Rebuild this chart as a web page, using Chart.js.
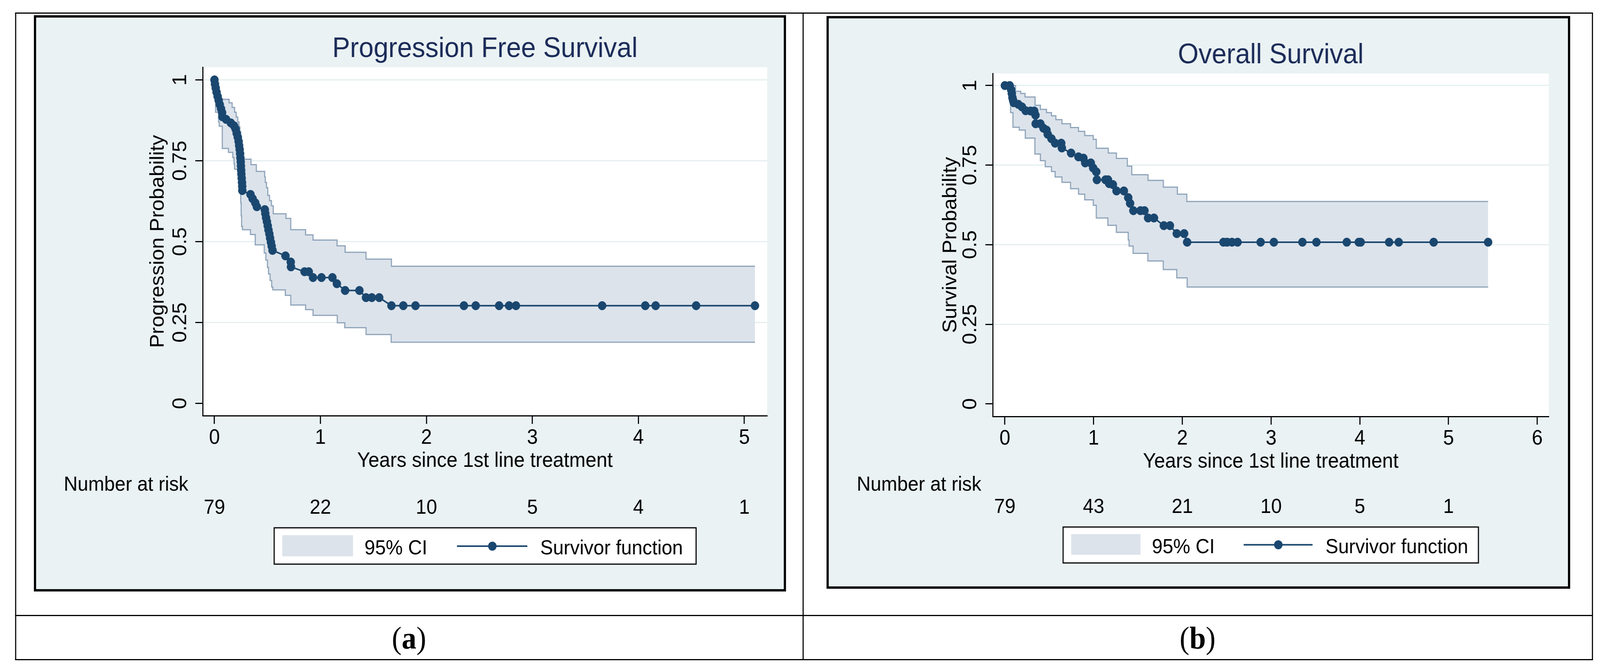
<!DOCTYPE html>
<html>
<head>
<meta charset="utf-8">
<script src="https://cdn.jsdelivr.net/npm/chart.js@4.4.1/dist/chart.umd.min.js"></script>
<style>
  html, body { margin: 0; padding: 0; background: #fff; overflow: hidden; }
  #page { position: absolute; left: 0; top: 0; width: 4342px; height: 1715px; transform-origin: 0 0; background: #fff; }
  .rule { position: absolute; background: #000; }
  .frame { position: absolute; box-sizing: border-box; border: 6px solid #000; background: #eaf2f3; }
  canvas { position: absolute; }
  .cap { position: absolute; font-family: 'Liberation Serif', 'DejaVu Serif', serif; font-size: 80px;
         line-height: 1; transform: translate(-50%, -50%); white-space: nowrap; color: #000; }
</style>
</head>
<body>
<div id="page">
  <div class="rule" style="left:41px;top:32px;width:4282px;height:3px"></div>
  <div class="rule" style="left:41px;top:1687px;width:4282px;height:3px"></div>
  <div class="rule" style="left:41px;top:1574px;width:4282px;height:3px"></div>
  <div class="rule" style="left:41px;top:32px;width:3px;height:1658px"></div>
  <div class="rule" style="left:2178px;top:32px;width:3px;height:1658px"></div>
  <div class="rule" style="left:4320px;top:32px;width:3px;height:1658px"></div>

  <div class="frame" style="left:92px;top:39px;width:2041px;height:1475px"></div>
  <div class="frame" style="left:2243px;top:41px;width:2018px;height:1466px"></div>
  <canvas id="pfs" width="2035" height="1469" style="left:95px;top:42px;width:2035px;height:1469px"></canvas>
  <canvas id="os" width="2012" height="1460" style="left:2246px;top:44px;width:2012px;height:1460px"></canvas>

  <div class="cap" style="left:1110px;top:1633px">(<b>a</b>)</div>
  <div class="cap" style="left:3250px;top:1633px">(<b>b</b>)</div>
</div>

<script>
// Progression free survival (years, probability)
const pfsTime = [0, 0.005, 0.012, 0.02, 0.03, 0.04, 0.05, 0.062, 0.072, 0.075, 0.11, 0.155, 0.185, 0.2, 0.21,
  0.22, 0.228, 0.233, 0.238, 0.242, 0.245, 0.248, 0.25, 0.252, 0.254, 0.257, 0.26, 0.262, 0.263, 0.34, 0.36,
  0.385, 0.4, 0.475, 0.48, 0.487, 0.495, 0.503, 0.51, 0.518, 0.525, 0.533, 0.54, 0.548, 0.67, 0.72, 0.722,
  0.85, 0.89, 0.93, 1.01, 1.113, 1.155, 1.233, 1.368, 1.43, 1.485, 1.555, 1.67, 1.782, 1.897, 2.354, 2.465,
  2.686, 2.78, 2.845, 3.658, 4.065, 4.163, 4.545, 5.1];
const pfsSurv = [1, 0.987, 0.975, 0.962, 0.949, 0.937, 0.924, 0.911, 0.899, 0.886, 0.878, 0.867, 0.858, 0.848,
  0.835, 0.823, 0.81, 0.797, 0.785, 0.772, 0.759, 0.747, 0.734, 0.721, 0.709, 0.696, 0.683, 0.671, 0.658, 0.646,
  0.633, 0.62, 0.608, 0.599, 0.587, 0.574, 0.562, 0.549, 0.536, 0.524, 0.511, 0.498, 0.486, 0.473, 0.456, 0.437,
  0.422, 0.407, 0.407, 0.389, 0.389, 0.389, 0.37, 0.349, 0.349, 0.327, 0.327, 0.327, 0.302, 0.302, 0.302, 0.302,
  0.302, 0.302, 0.302, 0.302, 0.302, 0.302, 0.302, 0.302, 0.302];
const pfsUpperTime = [0, 0.02, 0.138, 0.167, 0.19, 0.205, 0.22, 0.232, 0.24, 0.248, 0.255, 0.26, 0.265, 0.27,
  0.345, 0.395, 0.474, 0.48, 0.491, 0.503, 0.52, 0.538, 0.555, 0.675, 0.72, 0.86, 0.93, 1.157, 1.233, 1.43, 1.67, 5.1];
const pfsUpper = [1, 0.94, 0.929, 0.915, 0.9, 0.885, 0.87, 0.855, 0.84, 0.824, 0.808, 0.792, 0.774, 0.755,
  0.738, 0.717, 0.7, 0.683, 0.667, 0.643, 0.627, 0.611, 0.586, 0.572, 0.537, 0.521, 0.505, 0.487, 0.467, 0.446, 0.424, 0.424];
const pfsLowerTime = [0, 0.0104, 0.039, 0.045, 0.074, 0.132, 0.173, 0.185, 0.19, 0.242, 0.245, 0.248, 0.252,
  0.256, 0.264, 0.34, 0.385, 0.47, 0.485, 0.5, 0.51, 0.525, 0.54, 0.551, 0.669, 0.72, 0.86, 0.93, 1.159, 1.23, 1.43, 1.667, 5.1];
const pfsLower = [1, 0.9, 0.87, 0.857, 0.788, 0.776, 0.76, 0.74, 0.724, 0.7, 0.66, 0.62, 0.58,
  0.547, 0.537, 0.522, 0.49, 0.465, 0.443, 0.42, 0.4, 0.38, 0.36, 0.351, 0.334, 0.304, 0.29, 0.272, 0.249, 0.234, 0.213, 0.189, 0.189];
const pfsRiskTime = [0, 1, 2, 3, 4, 5];
const pfsRisk = [79, 22, 10, 5, 4, 1];
const pfsXTicks = [0, 1, 2, 3, 4, 5];

// Overall survival
const osTime = [0, 0.054, 0.07, 0.078, 0.085, 0.092, 0.1, 0.151, 0.192, 0.234, 0.289, 0.331, 0.345, 0.347, 0.4,
  0.435, 0.469, 0.483, 0.525, 0.566, 0.635, 0.642, 0.746, 0.829, 0.885, 0.905, 0.968, 0.995, 1.03, 1.037, 1.134,
  1.162, 1.175, 1.217, 1.258, 1.341, 1.39, 1.411, 1.448, 1.528, 1.573, 1.614, 1.68, 1.791, 1.86, 1.937, 2.02,
  2.054, 2.463, 2.504, 2.559, 2.622, 2.882, 3.031, 3.353, 3.511, 3.853, 3.988, 4.01, 4.33, 4.438, 4.832, 5.446];
const osSurv = [1, 1, 0.987, 0.975, 0.962, 0.954, 0.946, 0.941, 0.933, 0.921, 0.92, 0.92, 0.907, 0.88, 0.88,
  0.866, 0.86, 0.847, 0.833, 0.819, 0.819, 0.804, 0.788, 0.776, 0.772, 0.757, 0.757, 0.741, 0.729, 0.704, 0.704,
  0.704, 0.692, 0.689, 0.669, 0.669, 0.648, 0.63, 0.607, 0.607, 0.607, 0.584, 0.584, 0.56, 0.56, 0.535, 0.535,
  0.508, 0.508, 0.508, 0.508, 0.508, 0.508, 0.508, 0.508, 0.508, 0.508, 0.508, 0.508, 0.508, 0.508, 0.508, 0.508];
const osUpperTime = [0, 0.12, 0.179, 0.227, 0.34, 0.4, 0.469, 0.525, 0.574, 0.643, 0.74, 0.83, 0.9, 0.996,
  1.03, 1.165, 1.257, 1.38, 1.43, 1.613, 1.786, 1.944, 2.05, 5.446];
const osUpper = [1, 0.982, 0.975, 0.964, 0.938, 0.925, 0.915, 0.905, 0.893, 0.88, 0.868, 0.856, 0.843, 0.831,
  0.803, 0.788, 0.771, 0.747, 0.72, 0.702, 0.681, 0.659, 0.636, 0.636];
const osLowerTime = [0, 0.055, 0.064, 0.091, 0.162, 0.23, 0.338, 0.4, 0.455, 0.525, 0.566, 0.643, 0.74, 0.83,
  0.9, 0.996, 1.03, 1.16, 1.256, 1.39, 1.4, 1.445, 1.611, 1.785, 1.937, 2.054, 5.446];
const osLower = [1, 0.96, 0.915, 0.869, 0.86, 0.835, 0.785, 0.764, 0.745, 0.73, 0.713, 0.696, 0.676, 0.659,
  0.641, 0.624, 0.584, 0.561, 0.539, 0.515, 0.496, 0.473, 0.449, 0.422, 0.396, 0.367, 0.367];
const osRiskTime = [0, 1, 2, 3, 4, 5];
const osRisk = [79, 43, 21, 10, 5, 1];
const osXTicks = [0, 1, 2, 3, 4, 5, 6];

const yTicks = [0, 0.25, 0.5, 0.75, 1];

const NAVY = '#1a476f';
const TITLE = '#1b2b58';
const CI_FILL = '#dce3eb';
const CI_LINE = '#8ea3b9';
const GRID = '#e5eef0';
const FONT = "'Liberation Sans', Arial, sans-serif";

Chart.defaults.font.family = FONT;

// the figure is laid out at 4342x1715; fit it to whatever window we get
const page = document.getElementById('page');
page.style.transform = 'scale(' + (window.innerWidth / 4342) + ',' + (window.innerHeight / 1715) + ')';

function toPoints(xs, ys) {
    return xs.map((x, i) => ({ x: x, y: ys[i] }));
}

const plotBackground = {
    id: 'plotBackground',
    beforeDraw(chart) {
        const a = chart.chartArea;
        chart.ctx.save();
        chart.ctx.fillStyle = '#fff';
        chart.ctx.fillRect(a.left, a.top, a.right - a.left, a.bottom - a.top);
        chart.ctx.restore();
    }
};

// number-at-risk row and the boxed legend underneath
function riskAndLegend(opt) {
    return {
        id: 'riskAndLegend',
        afterDraw(chart) {
            const ctx = chart.ctx;
            const xScale = chart.scales.x;
            const L = opt.legend;
            ctx.save();
            ctx.fillStyle = '#000';
            ctx.font = '52px ' + FONT;
            ctx.textBaseline = 'alphabetic';
            ctx.textAlign = 'left';
            ctx.fillText('Number at risk', opt.riskLabelX, opt.riskLabelY);
            ctx.textAlign = 'center';
            opt.riskTime.forEach((t, i) => {
                ctx.fillText(String(opt.risk[i]), xScale.getPixelForValue(t), opt.riskY);
            });

            ctx.fillStyle = '#fff';
            ctx.fillRect(L.x, L.y, L.w, L.h);
            ctx.lineWidth = 3;
            ctx.strokeStyle = '#000';
            ctx.strokeRect(L.x, L.y, L.w, L.h);
            ctx.fillStyle = CI_FILL;
            ctx.fillRect(L.x + L.swX, L.y + L.swY, L.swW, L.swH);
            ctx.fillStyle = '#000';
            ctx.textAlign = 'left';
            ctx.fillText(chart.data.datasets[2].label, L.x + L.ciTextX, L.y + L.textY);
            ctx.strokeStyle = NAVY;
            ctx.lineWidth = 4;
            ctx.beginPath();
            ctx.moveTo(L.x + L.lineX1, L.y + L.lineY);
            ctx.lineTo(L.x + L.lineX2, L.y + L.lineY);
            ctx.stroke();
            ctx.fillStyle = NAVY;
            ctx.beginPath();
            ctx.arc(L.x + L.markX, L.y + L.lineY, 11.5, 0, Math.PI * 2);
            ctx.fill();
            ctx.fillStyle = '#000';
            ctx.fillText(chart.data.datasets[0].label, L.x + L.survTextX, L.y + L.textY);
            ctx.restore();
        }
    };
}

function generateChart(canvasId, opt) {
    const data = {
        datasets: [{
            label: 'Survivor function',
            data: toPoints(opt.time, opt.surv),
            borderColor: NAVY,
            backgroundColor: NAVY,
            borderWidth: 4,
            pointRadius: 11,
            pointBorderWidth: 1,
            pointBackgroundColor: NAVY,
            pointBorderColor: NAVY,
            tension: 0,
            fill: false
        }, {
            label: 'upper',
            data: toPoints(opt.upperTime, opt.upper),
            stepped: true,
            borderColor: CI_LINE,
            borderWidth: 3,
            pointRadius: 0,
            fill: false
        }, {
            label: '95% CI',
            data: toPoints(opt.lowerTime, opt.lower),
            stepped: true,
            borderColor: CI_LINE,
            borderWidth: 3,
            pointRadius: 0,
            backgroundColor: CI_FILL,
            fill: '-1'
        }]
    };

    const config = {
        type: 'line',
        data: data,
        options: {
            responsive: false,
            animation: false,
            devicePixelRatio: 1,
            events: [],
            layout: { padding: { top: 0, left: 0, right: opt.padRight, bottom: opt.padBottom } },
            scales: {
                x: {
                    type: 'linear',
                    min: opt.xMin,
                    max: opt.xMax,
                    afterBuildTicks: s => { s.ticks = opt.xTicks.map(v => ({ value: v })); },
                    afterFit: s => { s.height = 150; },
                    grid: { drawOnChartArea: false, drawTicks: true, tickLength: 21, tickWidth: 3, tickColor: '#000' },
                    border: { display: true, color: '#000', width: 3 },
                    ticks: { color: '#000', font: { size: 53 }, padding: 5, autoSkip: false, maxRotation: 0,
                             callback: v => String(v) },
                    title: { display: true, text: 'Years since 1st line treatment', color: '#000',
                             font: { size: 53 }, padding: { top: 0, bottom: 2 } }
                },
                y: {
                    type: 'linear',
                    min: opt.yMin,
                    max: opt.yMax,
                    afterBuildTicks: s => { s.ticks = yTicks.map(v => ({ value: v })); },
                    afterFit: s => { s.width = opt.yAxisWidth; },
                    grid: {
                        color: c => (c.tick && c.tick.value > 0) ? GRID : 'rgba(0,0,0,0)',
                        lineWidth: 3, drawTicks: true, tickLength: 20, tickWidth: 3, tickColor: '#000'
                    },
                    border: { display: true, color: '#000', width: 3 },
                    ticks: { color: '#000', font: { size: 53 }, padding: -12, minRotation: 90, maxRotation: 90,
                             crossAlign: 'center', callback: v => String(v) },
                    title: { display: true, text: opt.yTitle, color: '#000', font: { size: 53 },
                             padding: { top: 303, bottom: 0 } }
                }
            },
            plugins: {
                legend: { display: false },
                tooltip: { enabled: false },
                title: {
                    display: true,
                    text: opt.title,
                    color: TITLE,
                    fullSize: false,
                    font: { size: 72, weight: 'normal' },
                    padding: { top: opt.titleTop, bottom: opt.titleBottom }
                }
            }
        },
        plugins: [plotBackground, riskAndLegend(opt)]
    };

    return new Chart(document.getElementById(canvasId), config);
}

const pfsChart = generateChart('pfs', {
    title: 'Progression Free Survival',
    yTitle: 'Progression Probability',
    time: pfsTime, surv: pfsSurv,
    upperTime: pfsUpperTime, upper: pfsUpper,
    lowerTime: pfsLowerTime, lower: pfsLower,
    riskTime: pfsRiskTime, risk: pfsRisk,
    xTicks: pfsXTicks,
    xMin: -0.111, xMax: 5.2156, yMin: -0.038, yMax: 1.0393,
    yAxisWidth: 455, padRight: 48, padBottom: 297,
    titleTop: 40.8, titleBottom: 2.8,
    riskLabelX: 78, riskLabelY: 1214, riskY: 1273,
    legend: { x: 649, y: 1309, w: 1145, h: 93, swX: 22, swY: 19, swW: 192, swH: 54, ciTextX: 245,
              textY: 67.6, lineX1: 496, lineX2: 687, lineY: 47, markX: 592, survTextX: 722 }
});

const osChart = generateChart('os', {
    title: 'Overall Survival',
    yTitle: 'Survival Probability',
    time: osTime, surv: osSurv,
    upperTime: osUpperTime, upper: osUpper,
    lowerTime: osLowerTime, lower: osLower,
    riskTime: osRiskTime, risk: osRisk,
    xTicks: osXTicks,
    xMin: -0.137, xMax: 6.1296, yMin: -0.0393, yMax: 1.038,
    yAxisWidth: 448, padRight: 55, padBottom: 288,
    titleTop: 54.8, titleBottom: 2.8,
    riskLabelX: 79, riskLabelY: 1212, riskY: 1268.5,
    legend: { x: 639, y: 1305, w: 1127, h: 92, swX: 22, swY: 18, swW: 188, swH: 53, ciTextX: 241,
              textY: 67.4, lineX1: 490, lineX2: 677, lineY: 45.5, markX: 584, survTextX: 712 }
});
</script>
</body>
</html>
